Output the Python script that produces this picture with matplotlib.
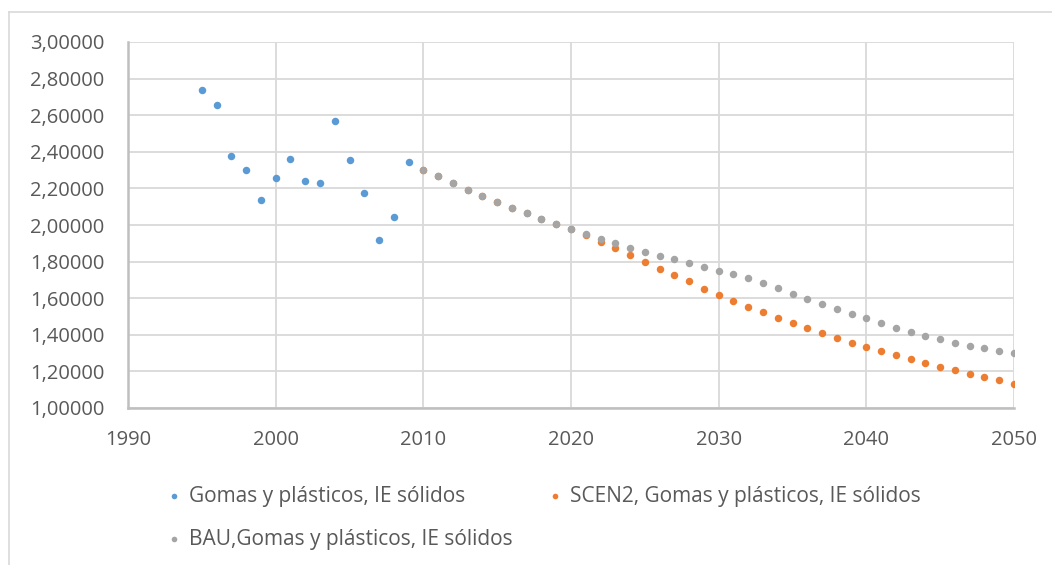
import matplotlib
matplotlib.use('Agg')
import matplotlib.pyplot as plt
from matplotlib.lines import Line2D
from matplotlib.ticker import FuncFormatter

plt.rcParams['font.family'] = ['Open Sans', 'DejaVu Sans']

# historical series
hist_years = list(range(1995, 2010))
hist_vals = [2.740, 2.654, 2.375, 2.303, 2.135, 2.255, 2.363, 2.240, 2.232,
             2.568, 2.355, 2.175, 1.916, 2.042, 2.343]

proj_years = list(range(2010, 2051))
# BAU projection
bau_vals = [2.303, 2.266, 2.228, 2.193, 2.158, 2.126, 2.095, 2.066, 2.035, 2.006,
            1.976, 1.951, 1.926, 1.902, 1.876, 1.855, 1.833, 1.813, 1.792, 1.770,
            1.751, 1.732, 1.709, 1.683, 1.654, 1.625, 1.594, 1.568, 1.541, 1.516,
            1.490, 1.464, 1.439, 1.417, 1.396, 1.375, 1.357, 1.341, 1.326, 1.313,
            1.301]
# SCEN2 projection
scen2_vals = [2.303, 2.266, 2.228, 2.193, 2.158, 2.126, 2.095, 2.066, 2.035, 2.006,
              1.976, 1.948, 1.907, 1.873, 1.834, 1.796, 1.760, 1.725, 1.692, 1.652,
              1.620, 1.587, 1.554, 1.523, 1.492, 1.463, 1.435, 1.408, 1.383, 1.357,
              1.333, 1.310, 1.288, 1.268, 1.246, 1.226, 1.206, 1.188, 1.169, 1.151,
              1.133]

labels = ["Gomas y plásticos, IE sólidos",
          "SCEN2, Gomas y plásticos, IE sólidos",
          "BAU,Gomas y plásticos, IE sólidos"]
colors = ["#5b9bd5", "#ed7d31", "#a5a5a5"]

W, H = 1052, 565
fig = plt.figure(figsize=(W / 100, H / 100), dpi=100)
ax = fig.add_axes([128 / W, 1 - 408 / H, (1014 - 128) / W, (408 - 42) / H])

h1 = ax.scatter(hist_years, hist_vals, s=29, color=colors[0], label=labels[0], zorder=3, linewidths=0)
h2 = ax.scatter(proj_years, scen2_vals, s=29, color=colors[1], label=labels[1], zorder=3, linewidths=0)
h3 = ax.scatter(proj_years, bau_vals, s=29, color=colors[2], label=labels[2], zorder=3, linewidths=0)

ax.set_xlim(1990, 2050)
ax.set_ylim(1.0, 3.0)
ax.set_xticks(range(1990, 2051, 10))
ax.set_yticks([1.0 + 0.2 * i for i in range(11)])
ax.yaxis.set_major_formatter(FuncFormatter(lambda v, p: ("%.5f" % v).replace('.', ',')))
ax.grid(True, color="#d9d9d9", linewidth=1.3)
ax.set_axisbelow(True)
for s in ['top', 'right']:
    ax.spines[s].set_visible(False)
for s in ['left', 'bottom']:
    ax.spines[s].set_color("#bfbfbf")
    ax.spines[s].set_linewidth(1.8)
ax.tick_params(length=0, labelsize=14.5, labelcolor="#595959")
ax.tick_params(axis='y', pad=17)
ax.tick_params(axis='x', pad=16)

# chart frame
fig.add_artist(Line2D([9 / W, 9 / W], [0, 1 - 12 / H], color="#d9d9d9", lw=1.2))
fig.add_artist(Line2D([9 / W, 1], [1 - 12 / H, 1 - 12 / H], color="#d9d9d9", lw=1.2))

# order so rows read: blue, orange / grey
leg = fig.legend([h1, h3, h2], [labels[0], labels[2], labels[1]],
                 loc='upper left', bbox_to_anchor=(143 / W, 1 - 467 / H), ncol=2,
                 frameon=False, fontsize=15, labelcolor="#595959", markerscale=0.75,
                 handletextpad=0.1, columnspacing=1.45, labelspacing=1.06,
                 handlelength=1.2)

fig.savefig("out.png", dpi=100)
